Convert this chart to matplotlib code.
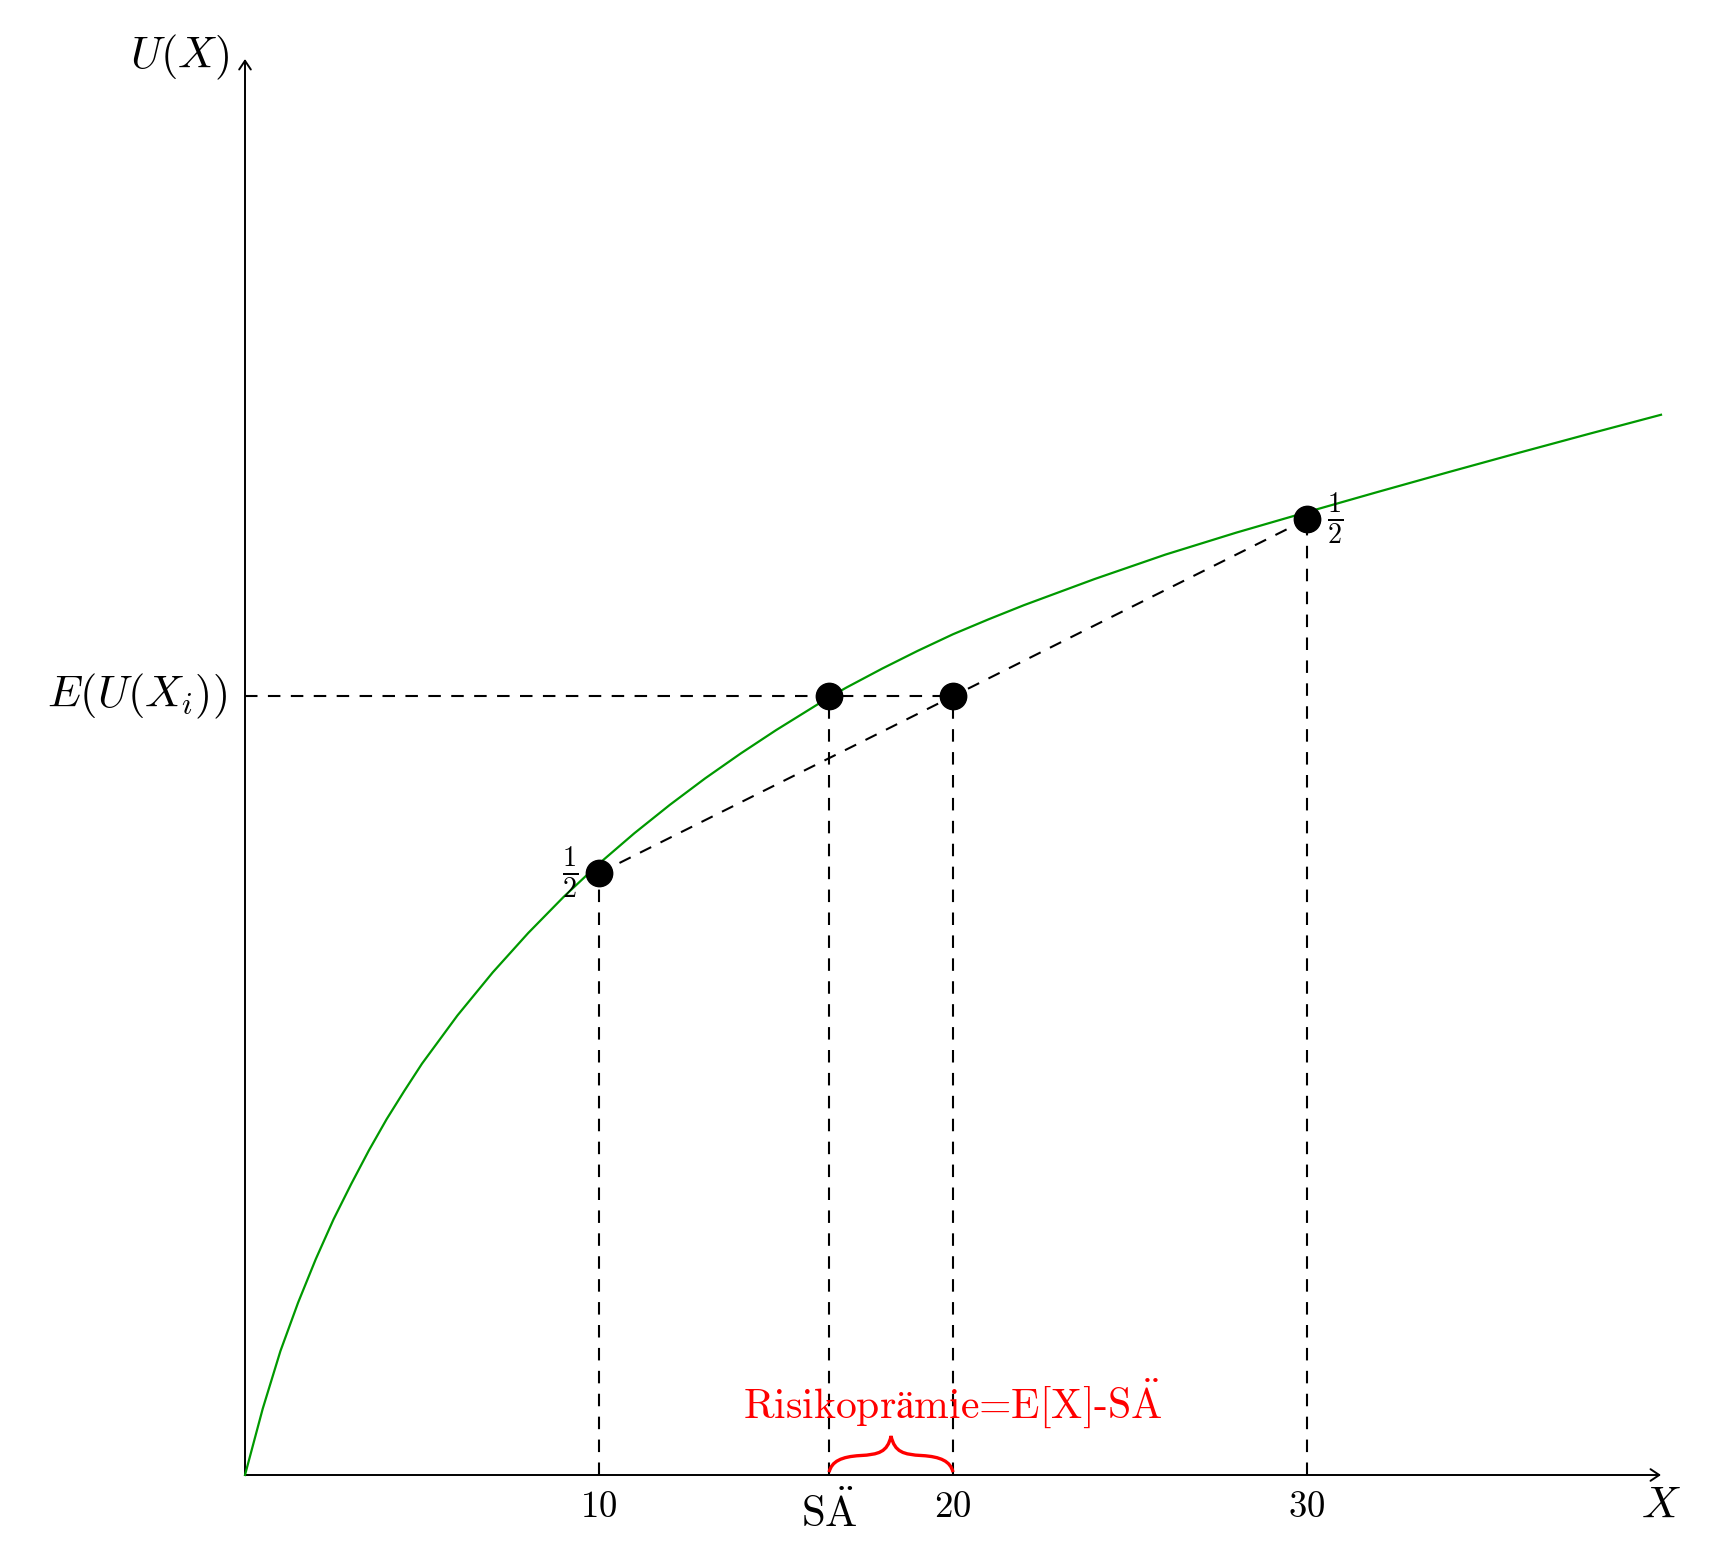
import matplotlib
matplotlib.use("Agg")
import matplotlib.pyplot as plt
from matplotlib.path import Path
from matplotlib.patches import PathPatch, FancyArrowPatch

plt.rcParams['mathtext.fontset'] = 'cm'

# utility curve (X, U)
curve_x = [0.0, 0.5, 1.0, 1.5, 2.0, 2.5, 3.0, 3.5, 4.0, 4.5, 5.0, 6.0, 7.0, 8.0, 9.0,
           10.0, 11.0, 12.0, 13.0, 14.0, 15.0, 16.0, 16.5, 17.0, 18.0, 19.0, 20.0,
           21.0, 22.0, 24.0, 26.0, 28.0, 30.0, 32.0, 34.0, 36.0, 38.0, 40.0]
curve_u = [0.0, 1.87, 3.5, 4.87, 6.1, 7.22, 8.22, 9.17, 10.05, 10.85, 11.62, 12.98, 14.2, 15.31, 16.33,
           17.27, 18.13, 18.93, 19.68, 20.38, 21.04, 21.66, 21.97, 22.25, 22.78, 23.28, 23.75,
           24.17, 24.57, 25.31, 26.0, 26.62, 27.2, 27.77, 28.33, 28.88, 29.42, 29.95]

# lottery outcomes and derived points
x_low, x_high = 10, 30
u_low, u_high = 17.0, 27.0
ce_x = 16.5      # Sicherheitsaequivalent
ex_x = 20        # E[X]
eu = 22.0        # E(U(X_i))
tick_vals = [10, 20, 30]
axis_max = 40

# pixel layout: origin at (245, 1475) px, 35.4 px per unit
W, H = 1718, 1564
ox, oy, s = 245.0, 1475.0, 35.4

fig = plt.figure(figsize=(W / 100, H / 100), dpi=100)
ax = fig.add_axes([0, 0, 1, 1])
ax.set_xlim(-ox / s, (W - ox) / s)
ax.set_ylim(-(H - oy) / s, oy / s)
ax.axis('off')

dash = (0, (6, 5))
dlw = 1.5

# axes with arrows
for tip in [(axis_max, 0), (0, axis_max)]:
    ax.add_patch(FancyArrowPatch((0, 0), tip, arrowstyle='->,head_length=0.45,head_width=0.3',
                                 mutation_scale=14, lw=1.4, color='black',
                                 shrinkA=0, shrinkB=0))

# utility curve
ax.plot(curve_x, curve_u, color='#009900', lw=1.6, zorder=3)

# guide lines
ax.plot([x_low, x_high], [u_low, u_high], color='black', lw=dlw, ls=dash, zorder=2)
ax.plot([0, ex_x], [eu, eu], color='black', lw=dlw, ls=dash, zorder=2)
for xv, yv in [(x_low, u_low), (ce_x, eu), (ex_x, eu), (x_high, u_high)]:
    ax.plot([xv, xv], [0, yv], color='black', lw=dlw, ls=dash, zorder=2)

# dots
ax.plot([x_low, ce_x, ex_x, x_high], [u_low, eu, eu, u_high], 'o',
        color='black', ms=19, zorder=4)

# labels
ax.text(-0.45, 40.05, r'$U(X)$', ha='right', va='center', fontsize=32)
ax.text(-0.5, eu, r'$E(U(X_i))$', ha='right', va='center', fontsize=32)
ax.text(axis_max, -1.21, r'$X$', ha='center', va='baseline', fontsize=32)
for t in tick_vals:
    ax.text(t, -1.19, r'$%d$' % t, ha='center', va='baseline', fontsize=26.5)
ax.text(ce_x, -1.47, r'$\mathrm{S}\ddot{\mathrm{A}}$', ha='center', va='baseline', fontsize=31)
ax.text(x_low - 0.6, u_low, r'$\frac{1}{2}$', ha='right', va='center', fontsize=29)
ax.text(x_high + 0.56, u_high, r'$\frac{1}{2}$', ha='left', va='center', fontsize=29)


# curly brace between SÄ and E[X]
def brace(ax, x0, x1, y0, h, **kw):
    w = x1 - x0
    xm = (x0 + x1) / 2
    verts = [(x0, y0),
             (x0 + 0.02 * w, y0 + 0.3 * h), (x0 + 0.1 * w, y0 + 0.43 * h), (x0 + 0.25 * w, y0 + 0.46 * h),
             (x0 + 0.4 * w, y0 + 0.49 * h), (xm - 0.03 * w, y0 + 0.55 * h), (xm, y0 + h),
             (xm + 0.03 * w, y0 + 0.55 * h), (x1 - 0.4 * w, y0 + 0.49 * h), (x1 - 0.25 * w, y0 + 0.46 * h),
             (x1 - 0.1 * w, y0 + 0.43 * h), (x1 - 0.02 * w, y0 + 0.3 * h), (x1, y0)]
    codes = [Path.MOVETO] + [Path.CURVE4] * 12
    ax.add_patch(PathPatch(Path(verts, codes), fill=False, **kw))


brace(ax, ce_x, ex_x, 0.08, 1.02, color='red', lw=2.4, zorder=3)
ax.text(ex_x, 1.61, r'$\text{Risikoprämie=E[X]-S}\ddot{\mathrm{A}}$',
        ha='center', va='baseline', fontsize=30, color='red')

fig.savefig('out.png', dpi=100)
